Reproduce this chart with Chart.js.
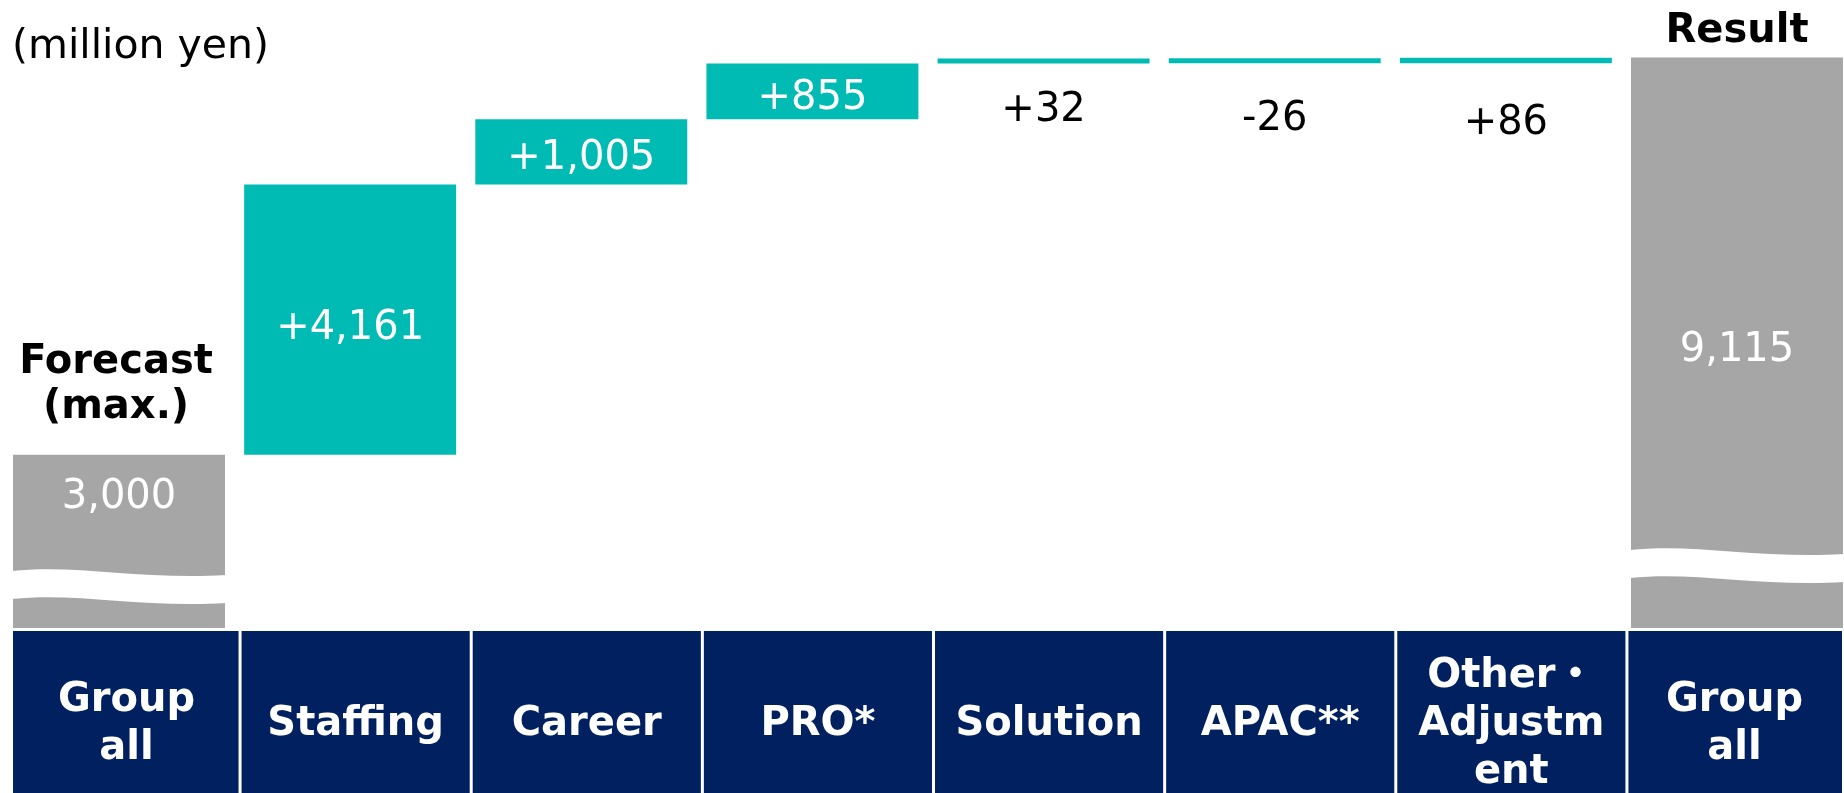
<!DOCTYPE html>
<html>
<head>
<meta charset="utf-8">
<script src="https://cdn.jsdelivr.net/npm/chart.js@4.4.1/dist/chart.umd.min.js"></script>
<style>
html,body{margin:0;padding:0;background:#ffffff;overflow:hidden}
#wrap{position:relative;width:1844px;height:793px}
</style>
</head>
<body>
<div id="wrap"><canvas id="c"></canvas></div>
<script>
// ---- data ----
const categories = [["Group","all"],["Staffing"],["Career"],["PRO*"],["Solution"],["APAC**"],["Other・","Adjustm","ent"],["Group","all"]];
const forecastValue = 3000;
const segmentChanges = [4161, 1005, 855, 32, -26, 86];
const resultValue = 9115;
const valueLabels = ["3,000","+4,161","+1,005","+855","+32","-26","+86","9,115"];
const forecastCaption = ["Forecast","(max.)"];
const resultCaption = ["Result"];
const unitLabel = "(million yen)";

// ---- build waterfall series ----
const barData = [forecastValue];
let running = forecastValue;
for (const d of segmentChanges) { barData.push([running, running + d]); running += d; }
barData.push(resultValue);

const GREY = '#A6A6A6', TEAL = '#00BBB4', NAVY = '#002060';
const FONT = "'DejaVu Sans', 'Noto Sans CJK JP', sans-serif";
const barColors = barData.map((v, i) => (i === 0 || i === barData.length - 1) ? GREY : TEAL);

// label placement styles (not data)
const labelStyle = [
  {mode:'top', dy:39, color:'#ffffff'},
  {mode:'mid', dy:5, color:'#ffffff'},
  {mode:'mid', dy:3, color:'#ffffff'},
  {mode:'mid', dy:3, color:'#ffffff'},
  {mode:'below', dy:43, color:'#000000'},
  {mode:'below', dy:52, color:'#000000'},
  {mode:'below', dy:56, color:'#000000'},
  {mode:'mid', dy:4, color:'#ffffff'}
];
const breakStyle = [{index:0, fromBase:57}, {index:7, fromBase:78}];

function barExtent(chart, b) {
  const bottomLimit = chart.chartArea.bottom;
  return [Math.min(b.y, b.base), Math.min(Math.max(b.y, b.base), bottomLimit)];
}

const decorPlugin = {
  id: 'decor',
  beforeDraw(chart) {
    const ctx = chart.ctx;
    const meta = chart.getDatasetMeta(0);
    const xs = meta.data.map(b => b.x);
    const n = xs.length;
    const top = chart.chartArea.bottom + 3;
    const bottom = chart.height;
    ctx.save();
    ctx.fillStyle = NAVY;
    const edges = [];
    for (let i = 0; i < n; i++) {
      const left = i === 0 ? meta.data[0].x - meta.data[0].width / 2 : (xs[i-1] + xs[i]) / 2 + 5.5;
      const right = i === n - 1 ? chart.width - 2 : (xs[i] + xs[i+1]) / 2 + 5.5;
      edges.push([left, right]);
      const l = left + (i === 0 ? 0 : 1.5);
      const r = right - (i === n - 1 ? 0 : 1.5);
      ctx.fillRect(l, top, r - l, bottom - top);
    }
    ctx.fillStyle = '#ffffff';
    ctx.font = 'bold 40px ' + FONT;
    ctx.textAlign = 'center';
    ctx.textBaseline = 'alphabetic';
    const centreBase = chart.chartArea.bottom + 107;
    const lh = 48;
    chart.data.labels.forEach((lab, i) => {
      const lines = Array.isArray(lab) ? lab : [lab];
      const cx = (edges[i][0] + edges[i][1]) / 2;
      lines.forEach((ln, j) => {
        ctx.fillText(ln, cx, centreBase + (j - (lines.length - 1) / 2) * lh);
      });
    });
    // unit label
    ctx.fillStyle = '#000000';
    ctx.font = '41px ' + FONT;
    ctx.textAlign = 'left';
    ctx.fillText(unitLabel, 12, 58);
    ctx.restore();
  },
  afterDatasetsDraw(chart) {
    const ctx = chart.ctx;
    const meta = chart.getDatasetMeta(0);
    ctx.save();
    // axis break waves
    ctx.fillStyle = '#ffffff';
    breakStyle.forEach(bs => {
      const b = meta.data[bs.index];
      const L = b.x - b.width / 2 - 1, R = b.x + b.width / 2 + 1, w = R - L;
      const y0 = barExtent(chart, b)[1] - bs.fromBase;
      const t = 28;
      ctx.beginPath();
      ctx.moveTo(L, y0);
      ctx.bezierCurveTo(L + 0.3 * w, y0 - 7, L + 0.6 * w, y0 + 9, R, y0 + 4);
      ctx.lineTo(R, y0 + 4 + t);
      ctx.bezierCurveTo(L + 0.6 * w, y0 + 9 + t, L + 0.3 * w, y0 - 7 + t, L, y0 + t);
      ctx.closePath();
      ctx.fill();
    });
    // value labels
    ctx.font = '40px ' + FONT;
    ctx.textAlign = 'center';
    ctx.textBaseline = 'alphabetic';
    meta.data.forEach((b, i) => {
      const s = labelStyle[i];
      const [topPx, botPx] = barExtent(chart, b);
      let cy;
      if (s.mode === 'top') cy = topPx + s.dy;
      else if (s.mode === 'mid') cy = (topPx + botPx) / 2 + s.dy;
      else cy = botPx + s.dy;
      ctx.fillStyle = s.color;
      ctx.fillText(valueLabels[i], b.x, cy + 0.365 * 40);
    });
    // captions above total bars
    ctx.fillStyle = '#000000';
    ctx.font = 'bold 40px ' + FONT;
    const first = meta.data[0], last = meta.data[meta.data.length - 1];
    const fTop = barExtent(chart, first)[0];
    ctx.fillText(forecastCaption[0], first.x - 3, fTop - 82);
    ctx.fillText(forecastCaption[1], first.x - 3, fTop - 37);
    const lTop = barExtent(chart, last)[0];
    ctx.fillText(resultCaption[0], last.x, lTop - 16);
    ctx.restore();
  }
};

new Chart(document.getElementById('c'), {
  type: 'bar',
  data: {
    labels: categories,
    datasets: [{
      data: barData,
      backgroundColor: barColors,
      borderWidth: 0,
      categoryPercentage: 1.0,
      barPercentage: 0.917,
      minBarLength: 5,
      clip: { left: 150, right: 150, top: 30, bottom: 0 }
    }]
  },
  options: {
    responsive: true,
    maintainAspectRatio: false,
    animation: false,
    layout: { padding: { left: 119, right: 107, top: 0, bottom: 165 } },
    plugins: { legend: { display: false }, tooltip: { enabled: false }, title: { display: false } },
    scales: {
      x: { display: false, offset: false, grid: { display: false } },
      y: { display: false, min: 335, max: 10000, grid: { display: false } }
    }
  },
  plugins: [decorPlugin]
});
</script>
</body>
</html>
